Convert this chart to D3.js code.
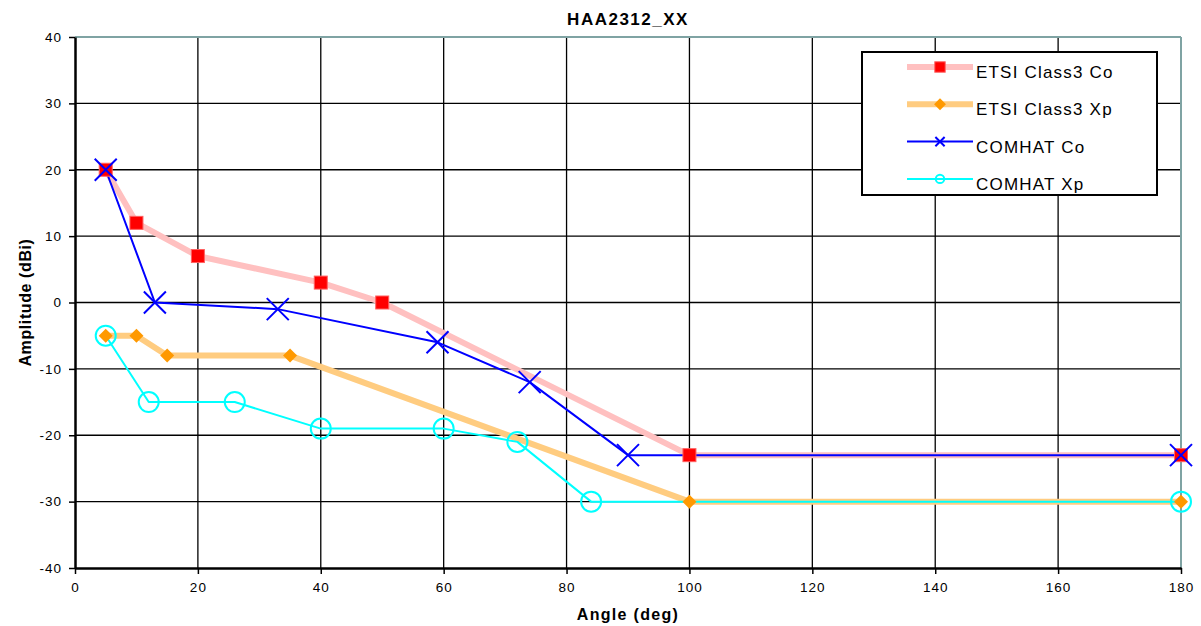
<!DOCTYPE html>
<html>
<head>
<meta charset="utf-8">
<script src="https://cdn.jsdelivr.net/npm/d3@7"></script>
<style>
  body { margin: 0; background: #fff; }
  svg { display: block; font-family: "Liberation Sans", Arial, sans-serif; }
</style>
</head>
<body>
<svg id="chart"></svg>
<script>
// data
var etsiCoX = [5, 10, 20, 40, 50, 100, 180];
var etsiCoY = [20, 12, 7, 3, 0, -23, -23];
var etsiXpX = [5, 10, 15, 35, 100, 180];
var etsiXpY = [-5, -5, -8, -8, -30, -30];
var comCoX = [5, 13, 33, 59, 74, 90, 180];
var comCoY = [20, 0, -1, -6, -12, -23, -23];
var comXpX = [5, 12, 26, 40, 60, 72, 84, 180];
var comXpY = [-5, -15, -15, -19, -19, -21, -30, -30];
var xTicks = [0, 20, 40, 60, 80, 100, 120, 140, 160, 180];
var yTicks = [-40, -30, -20, -10, 0, 10, 20, 30, 40];
var seriesNames = ["ETSI Class3 Co", "ETSI Class3 Xp", "COMHAT Co", "COMHAT Xp"];

var W = 1201, H = 626;
var m = { left: 75, right: 20, top: 37, bottom: 58 };

var svg = d3.select("#chart").attr("width", W).attr("height", H);

var x = d3.scaleLinear().domain([0, 180]).range([m.left, W - m.right]);
var y = d3.scaleLinear().domain([-40, 40]).range([H - m.bottom, m.top]);

function zip(xs, ys) { return xs.map(function(v, i) { return [v, ys[i]]; }); }

var series = [
  { name: seriesNames[0], pts: zip(etsiCoX, etsiCoY), color: "#ffc0c0", width: 6, marker: "square", mcolor: "#ff0000", ls: 0.8 },
  { name: seriesNames[1], pts: zip(etsiXpX, etsiXpY), color: "#ffcc80", width: 6, marker: "diamond", mcolor: "#ff9900", ls: 0.85 },
  { name: seriesNames[2], pts: zip(comCoX, comCoY), color: "#0000ff", width: 2, marker: "cross", mcolor: "#0000ff", ls: 0.42 },
  { name: seriesNames[3], pts: zip(comXpX, comXpY), color: "#00ffff", width: 2, marker: "circle", mcolor: "#00ffff", ls: 0.42 }
];

// grid
var grid = svg.append("g");
grid.selectAll(".gx").data(xTicks.slice(1, -1)).enter().append("line")
    .attr("x1", function(d) { return x(d); }).attr("x2", function(d) { return x(d); })
    .attr("y1", y(40)).attr("y2", y(-40))
    .attr("stroke", "#000").attr("stroke-width", 1.3);
grid.selectAll(".gy").data(yTicks.slice(1, -1)).enter().append("line")
    .attr("x1", x(0)).attr("x2", x(180))
    .attr("y1", function(d) { return y(d); }).attr("y2", function(d) { return y(d); })
    .attr("stroke", "#000").attr("stroke-width", 1.3);

// plot border top/right
svg.append("line").attr("x1", x(0)).attr("x2", x(180)).attr("y1", y(40)).attr("y2", y(40))
    .attr("stroke", "#7fa3a3").attr("stroke-width", 2);
svg.append("line").attr("x1", x(180)).attr("x2", x(180)).attr("y1", y(40)).attr("y2", y(-40))
    .attr("stroke", "#7fa3a3").attr("stroke-width", 2);

// axes (plain hyphen minus like the original)
var fmt = function(d) { return String(d); };
var xAxis = svg.append("g")
    .attr("transform", "translate(0," + y(-40) + ")")
    .call(d3.axisBottom(x).tickValues(xTicks).tickFormat(fmt).tickSize(6).tickPadding(8).tickSizeOuter(0));
var yAxis = svg.append("g")
    .attr("transform", "translate(" + x(0) + ",0)")
    .call(d3.axisLeft(y).tickValues(yTicks).tickFormat(fmt).tickSize(6).tickPadding(7).tickSizeOuter(0));
[xAxis, yAxis].forEach(function(a) {
  a.select(".domain").attr("stroke", "#000").attr("stroke-width", 2.5);
  a.selectAll(".tick line").attr("stroke", "#000").attr("stroke-width", 1.5);
  a.selectAll(".tick text").attr("fill", "#000").style("font-size", "13.5px").style("letter-spacing", "1px");
});

// lines
var line = d3.line().x(function(d) { return x(d[0]); }).y(function(d) { return y(d[1]); });
svg.append("g").selectAll("path").data(series).enter().append("path")
    .attr("d", function(s) { return line(s.pts); })
    .attr("fill", "none")
    .attr("stroke", function(s) { return s.color; })
    .attr("stroke-width", function(s) { return s.width; })
    .attr("stroke-linejoin", "round");

function drawMarker(g, s, cx, cy, scale) {
  var k = scale || 1;
  if (s.marker === "square") {
    g.append("rect").attr("x", cx - 6.5 * k).attr("y", cy - 6.5 * k)
      .attr("width", 13 * k).attr("height", 13 * k)
      .attr("fill", s.mcolor).attr("stroke", "#ff6060").attr("stroke-width", 1);
  } else if (s.marker === "diamond") {
    var r = 7 * k;
    g.append("path").attr("d", "M" + cx + "," + (cy - r) + "L" + (cx + r) + "," + cy + "L" + cx + "," + (cy + r) + "L" + (cx - r) + "," + cy + "Z")
      .attr("fill", s.mcolor);
  } else if (s.marker === "cross") {
    var c = 11 * k;
    g.append("path").attr("d", "M" + (cx - c) + "," + (cy - c) + "L" + (cx + c) + "," + (cy + c) + "M" + (cx - c) + "," + (cy + c) + "L" + (cx + c) + "," + (cy - c))
      .attr("stroke", s.mcolor).attr("stroke-width", 2);
  } else {
    g.append("circle").attr("cx", cx).attr("cy", cy).attr("r", 10 * k)
      .attr("fill", "none").attr("stroke", s.mcolor).attr("stroke-width", 2);
  }
}

// markers
var mk = svg.append("g");
series.forEach(function(s) {
  s.pts.forEach(function(p) { drawMarker(mk, s, x(p[0]), y(p[1]), 1); });
});

// legend
var lg = svg.append("g").attr("transform", "translate(862,52)");
lg.append("rect").attr("width", 295).attr("height", 143)
    .attr("fill", "#fff").attr("stroke", "#000").attr("stroke-width", 2);
series.forEach(function(s, i) {
  var ly = 15 + i * 37.3;
  lg.append("line").attr("x1", 45).attr("x2", 111).attr("y1", ly).attr("y2", ly)
    .attr("stroke", s.color).attr("stroke-width", s.width);
  drawMarker(lg, s, 78, ly, s.ls);
  lg.append("text").attr("x", 114).attr("y", ly + 11)
    .style("font-size", "17px").style("letter-spacing", "1.2px").text(s.name);
});

// titles
svg.append("text").attr("x", (x(0) + x(180)) / 2).attr("y", 25)
    .attr("text-anchor", "middle").style("font-size", "17px").style("font-weight", "bold")
    .style("letter-spacing", "1.5px").text("HAA2312_XX");
svg.append("text").attr("x", (x(0) + x(180)) / 2).attr("y", 620)
    .attr("text-anchor", "middle").style("font-size", "16px").style("font-weight", "bold")
    .style("letter-spacing", "1.3px").text("Angle (deg)");
svg.append("text").attr("transform", "translate(31," + (y(0)) + ") rotate(-90)")
    .attr("text-anchor", "middle").style("font-size", "16px").style("font-weight", "bold")
    .style("letter-spacing", "0.6px").text("Amplitude (dBi)");
</script>
</body>
</html>
